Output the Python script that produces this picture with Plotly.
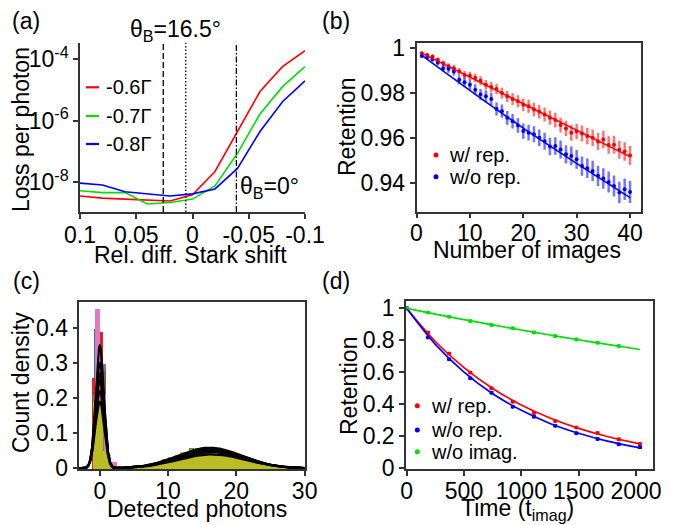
import numpy as np
import plotly.graph_objects as go

W, H = 676, 525
FONT = "Liberation Sans, Arial, sans-serif"
AX = "#333333"

# ---------------- (a) data ----------------
stark_shift = [0.1, 0.08, 0.06, 0.04, 0.02, 0.0, -0.02, -0.04, -0.06, -0.08, -0.1]
loss_06 = [10**-8.45, 10**-8.52, 10**-8.55, 10**-8.57, 10**-8.61, 10**-8.41, 10**-7.65, 10**-6.35, 10**-5.05, 10**-4.24, 10**-3.72]
loss_07 = [10**-8.28, 10**-8.34, 10**-8.34, 10**-8.71, 10**-8.66, 10**-8.55, 10**-8.12, 10**-7.06, 10**-5.78, 10**-4.89, 10**-4.24]
loss_08 = [10**-8.03, 10**-8.09, 10**-8.31, 10**-8.38, 10**-8.45, 10**-8.38, 10**-8.22, 10**-7.55, 10**-6.35, 10**-5.38, 10**-4.70]
detuning_labels = ["-0.6Γ", "-0.7Γ", "-0.8Γ"]
ref_shifts = [0.026, 0.006, -0.039]   # dashed, dotted, dash-dot
a_xticks = [0.1, 0.05, 0.0, -0.05, -0.1]
a_xticktext = ["0.1", "0.05", "0", "-0.05", "-0.1"]
a_yticks = [1e-8, 1e-6, 1e-4]
a_yticktext = ["10<sup>-8</sup>", "10<sup>-6</sup>", "10<sup>-4</sup>"]

# ---------------- (b) data ----------------
n_images = list(range(1, 41))
rep_ret = [0.9978, 0.9970, 0.9963, 0.9948, 0.9933, 0.9919, 0.9911, 0.9896, 0.9881, 0.9877,
           0.9867, 0.9855, 0.9837, 0.9827, 0.9818, 0.9800, 0.9785, 0.9773, 0.9763, 0.9748,
           0.9741, 0.9726, 0.9716, 0.9704, 0.9690, 0.9679, 0.9657, 0.9642, 0.9622, 0.9628,
           0.9619, 0.9608, 0.9600, 0.9583, 0.9592, 0.9568, 0.9569, 0.9547, 0.9539, 0.9521]
rep_err = [0.0006, 0.0008, 0.0009, 0.0011, 0.0012, 0.0014, 0.0015, 0.0016, 0.0017, 0.0018,
           0.0019, 0.0020, 0.0021, 0.0022, 0.0023, 0.0024, 0.0025, 0.0026, 0.0027, 0.0028,
           0.0029, 0.0030, 0.0030, 0.0031, 0.0032, 0.0033, 0.0033, 0.0034, 0.0035, 0.0035,
           0.0036, 0.0037, 0.0037, 0.0038, 0.0039, 0.0039, 0.0040, 0.0040, 0.0041, 0.0042]
norep_ret = [0.9965, 0.9960, 0.9951, 0.9936, 0.9911, 0.9908, 0.9896, 0.9859, 0.9848, 0.9837,
             0.9815, 0.9793, 0.9785, 0.9773, 0.9729, 0.9719, 0.9689, 0.9674, 0.9655, 0.9630,
             0.9623, 0.9616, 0.9600, 0.9585, 0.9561, 0.9563, 0.9548, 0.9526, 0.9519, 0.9504,
             0.9474, 0.9464, 0.9452, 0.9430, 0.9418, 0.9403, 0.9385, 0.9356, 0.9370, 0.9358]
norep_err = [0.0007, 0.0009, 0.0011, 0.0013, 0.0015, 0.0017, 0.0018, 0.0020, 0.0021, 0.0023,
             0.0024, 0.0025, 0.0027, 0.0028, 0.0029, 0.0030, 0.0031, 0.0032, 0.0033, 0.0034,
             0.0035, 0.0036, 0.0037, 0.0038, 0.0039, 0.0039, 0.0040, 0.0041, 0.0042, 0.0042,
             0.0043, 0.0044, 0.0045, 0.0045, 0.0046, 0.0047, 0.0047, 0.0048, 0.0048, 0.0049]
b_fit_n = [1, 20, 40]
rep_fit = [0.9978, 0.9752, 0.9516]
norep_fit = [0.9968, 0.9643, 0.9333]
b_labels = ["w/ rep.", "w/o rep."]

# ---------------- (c) data ----------------
hist_blue_x = [-0.35, 0.45, 1.25, 2.05]
hist_blue_y = [0.40, 0.30, 0.03, 0.005]
hist_orange_x = [-0.3, 0.5, 1.3, 9.5, 10.5, 11.5]
hist_orange_y = [0.36, 0.25, 0.03, 0.027, 0.034, 0.040]
hist_green_x = [-0.3, 0.5, 1.3, 13.5, 25.5]
hist_green_y = [0.34, 0.27, 0.03, 0.058, 0.011]
hist_red_x = [-0.7, 0.1, 0.9, 1.7]
hist_red_y = [0.26, 0.39, 0.06, 0.01]
hist_purple_x = [-0.3, 0.5, 1.3, 2.1]
hist_purple_y = [0.30, 0.30, 0.04, 0.02]
hist_brown_x = [-0.3, 0.5, 1.3, 26.5]
hist_brown_y = [0.30, 0.28, 0.04, 0.007]
hist_pink_x = [-0.3, 0.5, 1.3, 2.1, 2.9]
hist_pink_y = [0.455, 0.21, 0.04, 0.02, 0.008]
hist_gray_x = [-0.6, 0.2, 1.0, 27.5]
hist_gray_y = [0.21, 0.17, 0.05, 0.004]
hist_olive_x = [-0.625, 0.125, 0.875, 1.625, 2.375, 3.125, 3.875, 4.625, 5.375, 6.125, 6.875,
                7.625, 8.375, 9.125, 9.875, 10.625, 11.375, 12.125, 12.875, 13.625, 14.375,
                15.125, 15.875, 16.625, 17.375, 18.125, 18.875, 19.625, 20.375, 21.125,
                21.875, 22.625, 23.375, 24.125, 24.875, 25.625, 26.375, 27.125, 27.875, 28.625]
hist_olive_y = [0.19, 0.185, 0.05, 0.012, 0.004, 0.002, 0.0025, 0.004, 0.006, 0.008, 0.011,
                0.014, 0.018, 0.023, 0.028, 0.033, 0.036, 0.047, 0.048, 0.055, 0.058,
                0.062, 0.063, 0.060, 0.059, 0.055, 0.051, 0.046, 0.041, 0.035,
                0.030, 0.024, 0.019, 0.014, 0.010, 0.008, 0.005, 0.004, 0.002, 0.001]
hist_narrow_width = 0.8
hist_olive_width = 0.75
# fitted double-Gaussian curves (read peak heights, centres and widths)
fit_bg_height = [0.35, 0.30, 0.27, 0.25, 0.22, 0.19]
fit_bg_sigma = [0.60, 0.62, 0.63, 0.64, 0.65, 0.66]
fit_atom_height = [0.040, 0.046, 0.049, 0.052, 0.055, 0.059]
fit_atom_center = [16.4, 16.3, 16.3, 16.2, 16.2, 16.1]
fit_atom_sigma = [4.9, 4.8, 4.8, 4.8, 4.7, 4.7]
c_xticks = [0, 10, 20, 30]
c_yticks = [0, 0.1, 0.2, 0.3, 0.4]
c_yticktext = ["0", "0.1", "0.2", "0.3", "0.4"]

# ---------------- (d) data ----------------
t_imag = [0, 185, 370, 555, 740, 925, 1110, 1295, 1480, 1665, 1850, 2035]
d_rep = [1.0, 0.848, 0.717, 0.597, 0.498, 0.414, 0.344, 0.293, 0.252, 0.218, 0.179, 0.149]
d_norep = [1.0, 0.817, 0.681, 0.561, 0.471, 0.383, 0.320, 0.264, 0.216, 0.180, 0.147, 0.128]
t_noimag = [0, 185, 370, 555, 740, 925, 1110, 1295, 1480, 1665, 1850]
d_noimag = [1.0, 0.974, 0.947, 0.920, 0.895, 0.875, 0.849, 0.826, 0.805, 0.784, 0.764]
d_err = 0.006
fit_t = [0, 250, 500, 750, 1000, 1250, 1500, 1750, 2035]
d_rep_fit = [1.0, 0.792, 0.628, 0.497, 0.394, 0.312, 0.247, 0.196, 0.150]
d_norep_fit = [1.0, 0.774, 0.600, 0.464, 0.360, 0.278, 0.216, 0.167, 0.125]
d_noimag_fit = [1.0, 0.964, 0.929, 0.896, 0.864, 0.833, 0.803, 0.774, 0.742]
d_labels = ["w/ rep.", "w/o rep.", "w/o imag."]
d_xticks = [0, 500, 1000, 1500, 2000]
d_yticks = [0, 0.2, 0.4, 0.6, 0.8, 1.0]
d_yticktext = ["0", "0.2", "0.4", "0.6", "0.8", "1"]

RED, GREEN, BLUE = "#ff0000", "#00e000", "#0000ff"


def fx(px):
    return px / W


def fy(py):
    return 1 - py / H


fig = go.Figure()

# (a)
for yv, col in zip([loss_06, loss_07, loss_08], [RED, GREEN, BLUE]):
    fig.add_trace(go.Scatter(x=stark_shift, y=yv, mode="lines", line=dict(color=col, width=1.6),
                             xaxis="x", yaxis="y", showlegend=False))

# (b)
fig.add_trace(go.Scatter(x=n_images, y=rep_ret, mode="markers",
                         marker=dict(color=RED, size=4),
                         error_y=dict(type="data", array=rep_err, color="rgba(255,0,0,0.55)",
                                      thickness=2.5, width=0),
                         xaxis="x2", yaxis="y2", showlegend=False))
fig.add_trace(go.Scatter(x=n_images, y=norep_ret, mode="markers",
                         marker=dict(color=BLUE, size=4),
                         error_y=dict(type="data", array=norep_err, color="rgba(0,0,255,0.55)",
                                      thickness=2.5, width=0),
                         xaxis="x2", yaxis="y2", showlegend=False))
fig.add_trace(go.Scatter(x=b_fit_n, y=rep_fit, mode="lines", line=dict(color=RED, width=1.6, shape="spline"),
                         xaxis="x2", yaxis="y2", showlegend=False))
fig.add_trace(go.Scatter(x=b_fit_n, y=norep_fit, mode="lines", line=dict(color=BLUE, width=1.6, shape="spline"),
                         xaxis="x2", yaxis="y2", showlegend=False))

# (c) histograms
tab = ["#1f77b4", "#ff7f0e", "#2ca02c", "#d62728", "#9467bd", "#8c564b", "#e377c2", "#7f7f7f"]
narrow = [(hist_blue_x, hist_blue_y), (hist_orange_x, hist_orange_y), (hist_green_x, hist_green_y),
          (hist_red_x, hist_red_y), (hist_purple_x, hist_purple_y), (hist_brown_x, hist_brown_y),
          (hist_pink_x, hist_pink_y), (hist_gray_x, hist_gray_y)]
for (hx, hy), col in zip(narrow, tab):
    fig.add_trace(go.Bar(x=hx, y=hy, width=[hist_narrow_width] * len(hx),
                         marker=dict(color=col, line=dict(width=0)),
                         xaxis="x3", yaxis="y3", showlegend=False))
fig.add_trace(go.Bar(x=hist_olive_x, y=hist_olive_y, width=[hist_olive_width] * len(hist_olive_x),
                     marker=dict(color="#bcbd22", line=dict(width=0)),
                     xaxis="x3", yaxis="y3", showlegend=False))
xc = np.linspace(-3, 30, 1200)
for a0, s0, a1, c1, s1 in zip(fit_bg_height, fit_bg_sigma, fit_atom_height, fit_atom_center, fit_atom_sigma):
    yc = a0 * np.exp(-xc**2 / (2 * s0**2)) + a1 * np.exp(-(xc - c1)**2 / (2 * s1**2))
    fig.add_trace(go.Scatter(x=xc, y=yc, mode="lines", line=dict(color="black", width=2.2),
                             xaxis="x3", yaxis="y3", showlegend=False))

# (d)
for tt, yy, col in [(t_imag, d_rep, RED), (t_imag, d_norep, BLUE), (t_noimag, d_noimag, GREEN)]:
    fig.add_trace(go.Scatter(x=tt, y=yy, mode="markers", marker=dict(color=col, size=4),
                             error_y=dict(type="constant", value=d_err, color=col, thickness=1.2, width=2),
                             xaxis="x4", yaxis="y4", showlegend=False))
for yy, col in [(d_rep_fit, RED), (d_norep_fit, BLUE), (d_noimag_fit, GREEN)]:
    fig.add_trace(go.Scatter(x=fit_t, y=yy, mode="lines", line=dict(color=col, width=1.7, shape="spline"),
                             xaxis="x4", yaxis="y4", showlegend=False))

tickfont = dict(family=FONT, size=23, color="black")


def axis(domain, mirror=True, **kw):
    d = dict(domain=domain, showline=True, linecolor=AX, linewidth=1.5, mirror=mirror,
             ticks="outside", ticklen=5, tickwidth=1.5, tickcolor=AX, showgrid=False,
             zeroline=False, tickfont=tickfont, automargin=False)
    d.update(kw)
    return d


layout = dict(
    template="none",
    width=W, height=H, margin=dict(l=0, r=0, t=0, b=0, pad=0, autoexpand=False),
    paper_bgcolor="white", plot_bgcolor="white", barmode="overlay", bargap=0,
    showlegend=False,
    font=dict(family=FONT, size=23, color="black"),
    xaxis=axis([fx(80), fx(305)], mirror=False, range=[0.1, -0.1], tickvals=a_xticks,
               ticktext=a_xticktext, anchor="y", ticklabelstandoff=-3),
    yaxis=axis([fy(212), fy(43)], mirror=False, type="log", range=[-8.97, -3.47],
               tickvals=a_yticks, ticktext=a_yticktext, anchor="x"),
    xaxis2=axis([fx(416.5), fx(640.7)], range=[0, 42], tickvals=[0, 10, 20, 30, 40], anchor="y2",
                ticklabelstandoff=-5),
    yaxis2=axis([fy(211.7), fy(43.3)], range=[0.927, 1.0022], tickvals=[0.94, 0.96, 0.98, 1.0],
                ticktext=["0.94", "0.96", "0.98", "1"], anchor="x2"),
    xaxis3=axis([fx(79.3), fx(305)], range=[-3, 30.05], tickvals=c_xticks, anchor="y3",
                ticklabelstandoff=-4),
    yaxis3=axis([fy(469), fy(301.7)], range=[-0.002, 0.476], tickvals=c_yticks,
                ticktext=c_yticktext, anchor="x3"),
    xaxis4=axis([fx(406), fx(653.3)], range=[-6, 2151], tickvals=d_xticks, anchor="y4",
                ticklabelstandoff=-4),
    yaxis4=axis([fy(469), fy(300.7)], range=[-0.008, 1.048], tickvals=d_yticks,
                ticktext=d_yticktext, anchor="x4"),
)
fig.update_layout(**layout)

# reference lines in (a)
for xv, dash in zip(ref_shifts, ["6px,3px", "1.5px,2px", "6px,2px,1.5px,2px"]):
    fig.add_shape(type="line", xref="x", yref="y domain", x0=xv, x1=xv, y0=0, y1=1,
                  line=dict(color="black", width=1.3, dash=dash))

ann = []


def text(px, py, s, size=23, xanchor="center", angle=0):
    ann.append(dict(x=fx(px), y=fy(py), xref="paper", yref="paper", text=s, showarrow=False,
                    xanchor=xanchor, yanchor="middle", textangle=angle,
                    font=dict(family=FONT, size=size, color="black")))


# panel labels
text(26, 21, "(a)")
text(336, 21, "(b)")
text(26, 281, "(c)")
text(336, 281, "(d)")
# axis titles
text(21, 130, "Loss per photon", angle=-90)
text(190, 255, "Rel. diff. Stark shift")
text(347, 127, "Retention", angle=-90)
text(527, 250, "Number of images")
text(21, 383, "Count density", angle=-90)
text(197, 509, "Detected photons")
text(349, 386, "Retention", angle=-90)
text(517, 509, "Time (t<sub>imag</sub>)")
# theta annotations
text(175, 30, "θ<sub>B</sub>=16.5°")
text(238, 187, "θ<sub>B</sub>=0°", xanchor="left")

# legends (a)
for lab, col, py in zip(detuning_labels, [RED, GREEN, BLUE], [87.3, 116, 144]):
    fig.add_shape(type="line", xref="paper", yref="paper", x0=fx(86), x1=fx(99), y0=fy(py), y1=fy(py),
                  line=dict(color=col, width=2.2))
    text(104, py, lab, size=20, xanchor="left")
# legends (b)
for lab, col, py in zip(b_labels, [RED, BLUE], [155, 176.7]):
    fig.add_shape(type="circle", xref="paper", yref="paper", x0=fx(433.5), x1=fx(438.5),
                  y0=fy(py + 2.5), y1=fy(py - 2.5), fillcolor=col, line=dict(width=0))
    text(446.7, py, lab, size=20, xanchor="left")
# legends (d)
for lab, col, py in zip(d_labels, [RED, BLUE, GREEN], [405.7, 430, 451.7]):
    fig.add_shape(type="circle", xref="paper", yref="paper", x0=fx(414.8), x1=fx(419.8),
                  y0=fy(py + 2.5), y1=fy(py - 2.5), fillcolor=col, line=dict(width=0))
    text(429.3, py, lab, size=20, xanchor="left")

fig.update_layout(annotations=ann)
fig.write_html("out.html", config={"displayModeBar": False},
               post_script="document.body.style.margin='0';")
